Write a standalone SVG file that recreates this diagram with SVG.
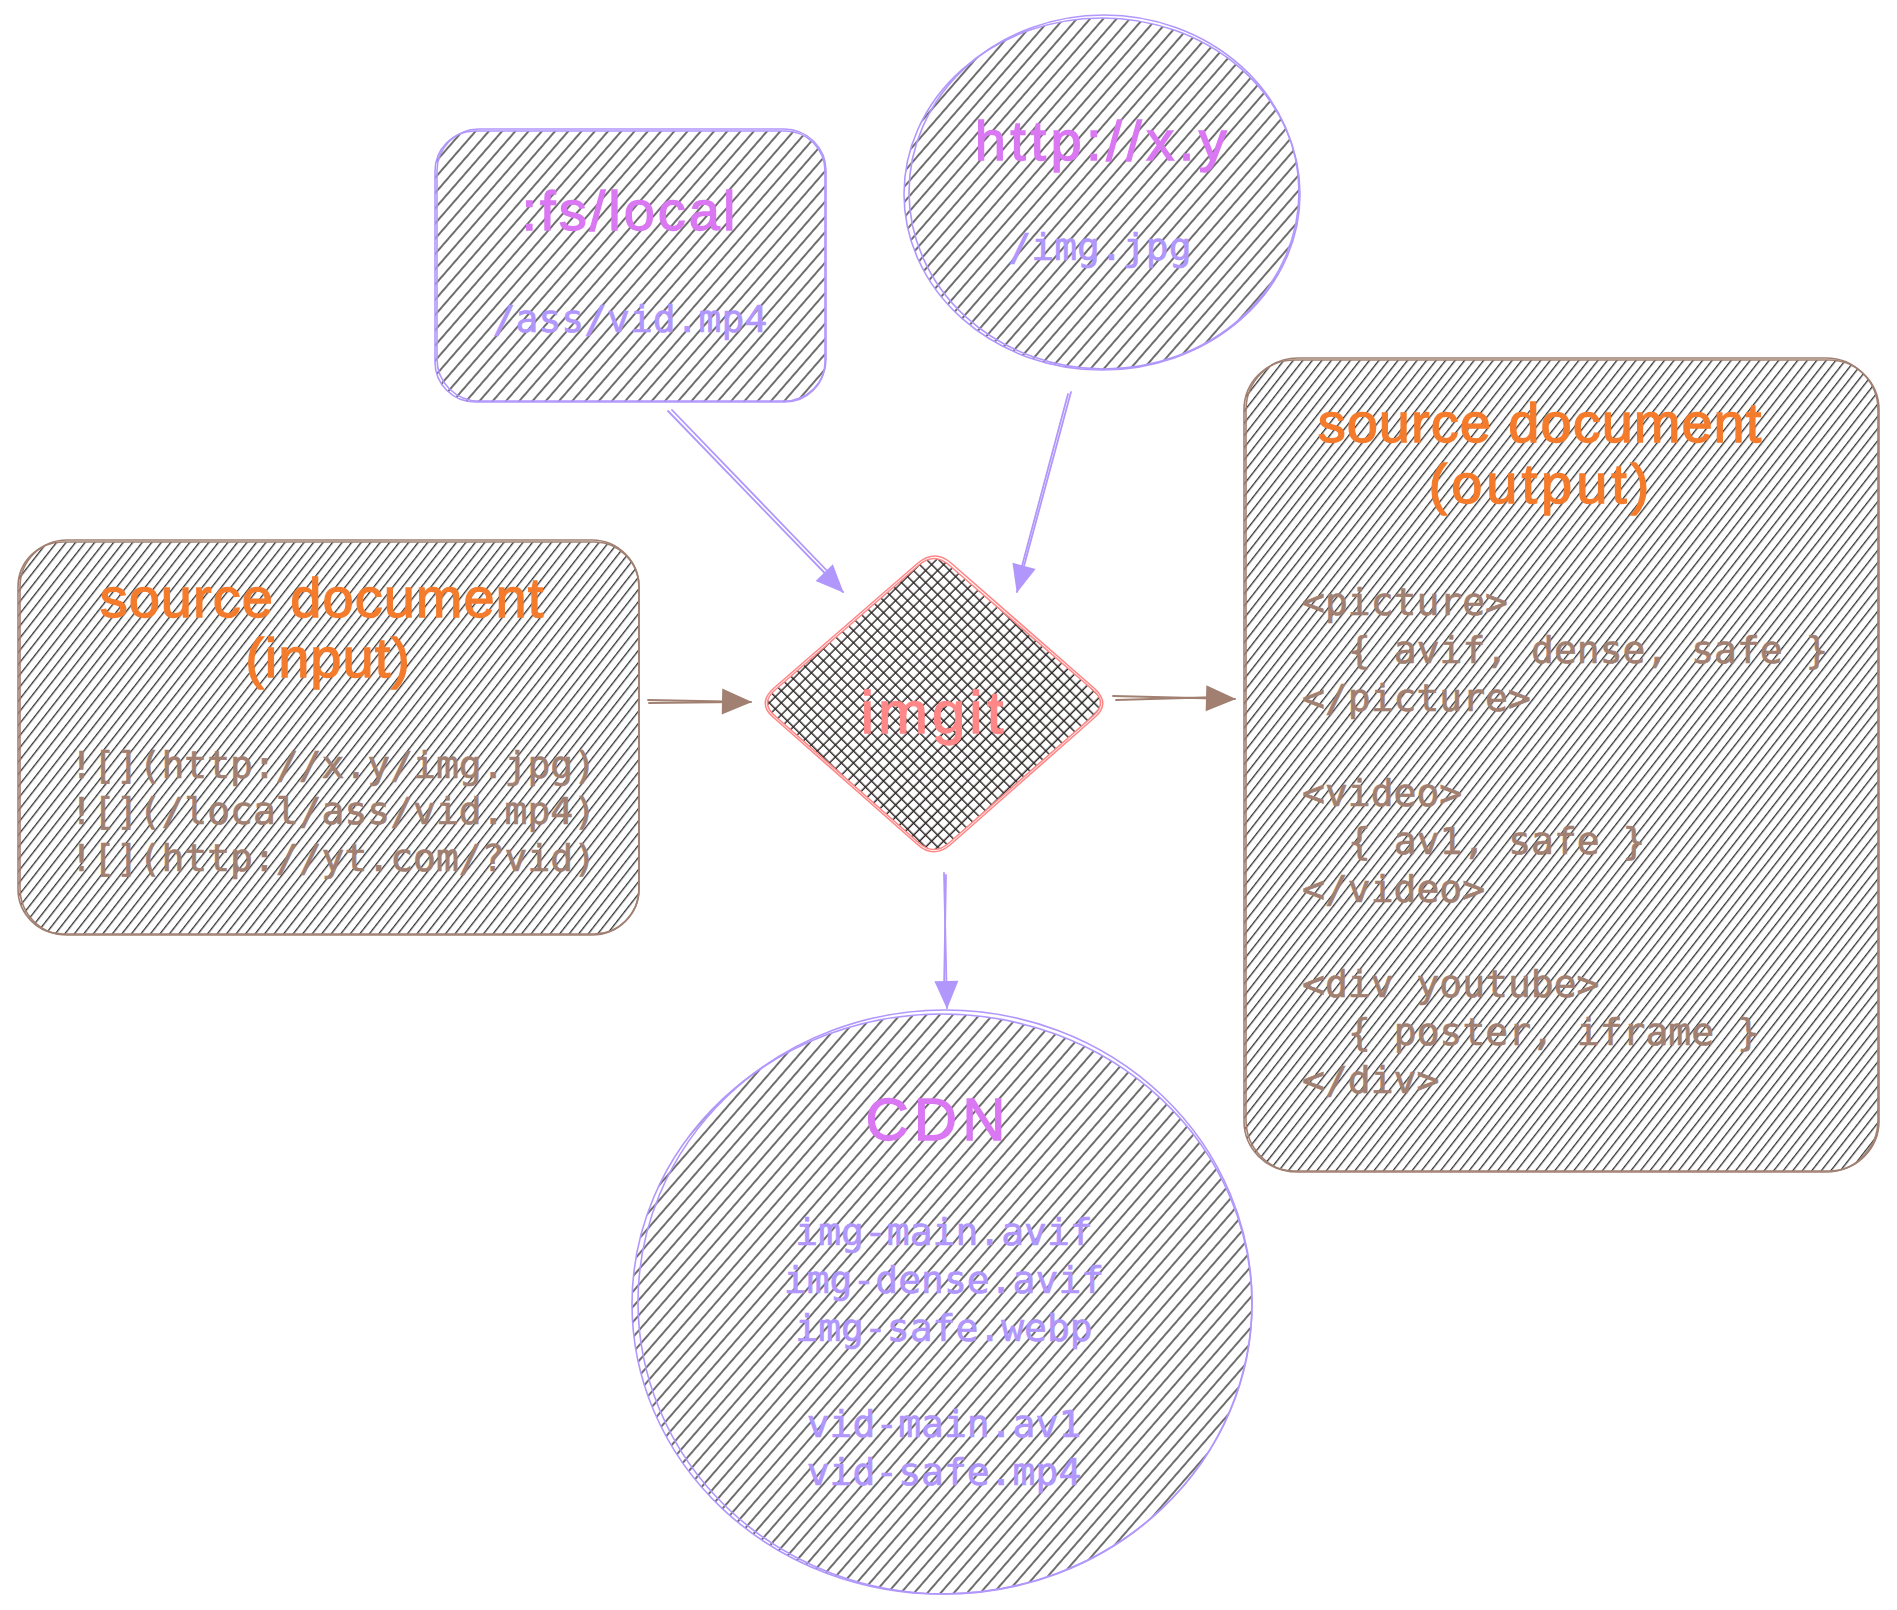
<svg xmlns="http://www.w3.org/2000/svg" width="1897" height="1610" viewBox="0 0 1897 1610">
<style>
.bg{fill:#ffffff}
.title{font-family:"Liberation Sans","Noto Sans",sans-serif;font-size:56px;letter-spacing:1px;text-anchor:middle;stroke-width:1.3px}
.mono{font-family:"DejaVu Sans Mono","Liberation Mono",monospace;font-size:38px;stroke-width:0.7px}
.mid{text-anchor:middle}
.violet{stroke:#b197fc;fill:none;stroke-width:1.6}
.brown{stroke:#a18072;fill:none;stroke-width:1.6}
.salmon{stroke:#ff8787;fill:none;stroke-width:1.6}
.t-grape{fill:#da77f2;stroke:#da77f2}
.t-violet{fill:#b197fc;stroke:#b197fc}
.t-brown{fill:#a18072;stroke:#a18072}
.t-orange{fill:#f47b2c;stroke:#f47b2c}
.t-salmon{fill:#ff8787;stroke:#ff8787}
.c-violet{stroke:#b197fc;fill:none;stroke-width:1.8;stroke-linecap:round}
.c-brown{stroke:#a18072;fill:none;stroke-width:1.8;stroke-linecap:round}
</style>
<defs>
<pattern id="hatch" patternUnits="userSpaceOnUse" width="10" height="10" patternTransform="rotate(-49)">
<line x1="0" y1="5" x2="10" y2="5" stroke="#1e1e1e" stroke-width="1.3"/>
</pattern>
<pattern id="hatchDense" patternUnits="userSpaceOnUse" width="10" height="7.5" patternTransform="rotate(-52)">
<line x1="0" y1="3.5" x2="10" y2="3.5" stroke="#1e1e1e" stroke-width="1.2"/>
</pattern>
<pattern id="crossA" patternUnits="userSpaceOnUse" width="10" height="8.5" patternTransform="rotate(-45)">
<line x1="0" y1="4" x2="10" y2="4" stroke="#2a2424" stroke-width="1.4"/>
</pattern>
<pattern id="crossB" patternUnits="userSpaceOnUse" width="10" height="8.5" patternTransform="rotate(45)">
<line x1="0" y1="4" x2="10" y2="4" stroke="#2a2424" stroke-width="1.4"/>
</pattern>
<marker id="headBrown" viewBox="0 0 32 30" refX="30" refY="15" markerWidth="32" markerHeight="30" markerUnits="userSpaceOnUse" orient="auto">
<path d="M1,2 L31,15 L1,28 Z" fill="#a18072"/>
</marker>
<marker id="headViolet" viewBox="0 0 30 28" refX="28" refY="14" markerWidth="30" markerHeight="28" markerUnits="userSpaceOnUse" orient="auto">
<path d="M1,2 L29,14 L1,26 Z" fill="#b197fc"/>
</marker>
</defs>
<rect class="bg" x="0" y="0" width="1897" height="1610"/>

<g id="connectors">
<g id="edge-input-imgit">
<path class="c-brown" d="M648,700 L751,702" marker-end="url(#headBrown)"/>
<path class="c-brown" d="M649,703 L736,702"/>
</g>
<g id="edge-imgit-output">
<path class="c-brown" d="M1113,696 L1235,699" marker-end="url(#headBrown)"/>
<path class="c-brown" d="M1116,700 L1220,697"/>
</g>
<g id="edge-fslocal-imgit">
<path class="c-violet" d="M668,411 L843,592" marker-end="url(#headViolet)"/>
<path class="c-violet" d="M672,410 L834,578"/>
</g>
<g id="edge-http-imgit">
<path class="c-violet" d="M1071,392 L1017,592" marker-end="url(#headViolet)"/>
<path class="c-violet" d="M1068,394 L1022,566"/>
</g>
<g id="edge-imgit-cdn">
<path class="c-violet" d="M944,873 L947,1008" marker-end="url(#headViolet)"/>
<path class="c-violet" d="M946,875 L944,990"/>
</g>
</g>

<g id="node-fslocal">
<rect x="435" y="131" width="390" height="271" rx="40" fill="url(#hatch)"/>
<rect class="violet" x="435" y="131" width="390" height="271" rx="40"/>
<rect class="violet" x="437" y="129" width="389" height="272" rx="42"/>
<text class="title t-grape" x="630" y="230" style="letter-spacing:3px">:fs/local</text>
<text class="mono mid t-violet" x="630" y="332">/ass/vid.mp4</text>
</g>

<g id="node-http">
<ellipse cx="1102" cy="194" rx="198" ry="176" fill="url(#hatch)"/>
<ellipse class="violet" cx="1102" cy="194" rx="198" ry="176"/>
<ellipse class="violet" cx="1104" cy="192" rx="195" ry="177"/>
<text class="title t-grape" x="1103" y="160" style="letter-spacing:4.5px">http://x.y</text>
<text class="mono mid t-violet" x="1100" y="260">/img.jpg</text>
</g>

<g id="node-input">
<rect x="18" y="542" width="621" height="392" rx="45" fill="url(#hatchDense)"/>
<rect class="brown" x="18" y="542" width="621" height="392" rx="45"/>
<rect class="brown" x="20" y="540" width="619" height="395" rx="47"/>
<text class="title t-orange" x="322" y="617">source document</text>
<text class="title t-orange" x="328" y="677">(input)</text>
<text class="mono mid t-brown" x="333" y="778">![](http://x.y/img.jpg)</text>
<text class="mono mid t-brown" x="333" y="824">![](/local/ass/vid.mp4)</text>
<text class="mono mid t-brown" x="333" y="871">![](http://yt.com/?vid)</text>
</g>

<g id="node-imgit">
<path d="M949,565 L1093,690 Q1108,703 1093,716 L949,843 Q934,856 919,843 L775,716 Q760,703 775,690 L919,565 Q934,552 949,565 Z" fill="url(#crossA)"/>
<path d="M949,565 L1093,690 Q1108,703 1093,716 L949,843 Q934,856 919,843 L775,716 Q760,703 775,690 L919,565 Q934,552 949,565 Z" fill="url(#crossB)"/>
<path class="salmon" d="M949,565 L1093,690 Q1108,703 1093,716 L949,843 Q934,856 919,843 L775,716 Q760,703 775,690 L919,565 Q934,552 949,565 Z"/>
<path class="salmon" d="M951,563 L1095,689 Q1111,704 1094,718 L950,845 Q933,859 917,844 L773,717 Q757,703 774,688 L918,563 Q935,549 951,563 Z"/>
<text class="title t-salmon" x="934" y="733" style="font-size:60px;letter-spacing:4px">imgit</text>
</g>

<g id="node-output">
<rect x="1244" y="360" width="635" height="811" rx="50" fill="url(#hatchDense)"/>
<rect class="brown" x="1244" y="360" width="635" height="811" rx="50"/>
<rect class="brown" x="1246" y="358" width="632" height="814" rx="52"/>
<text class="title t-orange" x="1540" y="442">source document</text>
<text class="title t-orange" x="1541" y="503" style="letter-spacing:4px">(output)</text>
<text class="mono t-brown" x="1302" y="615">&lt;picture&gt;</text>
<text class="mono t-brown" x="1348" y="663">{ avif, dense, safe }</text>
<text class="mono t-brown" x="1302" y="711">&lt;/picture&gt;</text>
<text class="mono t-brown" x="1302" y="806">&lt;video&gt;</text>
<text class="mono t-brown" x="1348" y="854">{ av1, safe }</text>
<text class="mono t-brown" x="1302" y="902">&lt;/video&gt;</text>
<text class="mono t-brown" x="1302" y="997">&lt;div youtube&gt;</text>
<text class="mono t-brown" x="1348" y="1045">{ poster, iframe }</text>
<text class="mono t-brown" x="1302" y="1093">&lt;/div&gt;</text>
</g>

<g id="node-cdn">
<ellipse cx="942" cy="1304" rx="310" ry="290" fill="url(#hatch)"/>
<ellipse class="violet" cx="942" cy="1304" rx="310" ry="290"/>
<ellipse class="violet" cx="945" cy="1302" rx="307" ry="292"/>
<text class="title t-grape" x="938" y="1140" style="font-size:60px;letter-spacing:5px">CDN</text>
<text class="mono mid t-violet" x="944" y="1245">img-main.avif</text>
<text class="mono mid t-violet" x="944" y="1293">img-dense.avif</text>
<text class="mono mid t-violet" x="944" y="1341">img-safe.webp</text>
<text class="mono mid t-violet" x="944" y="1437">vid-main.av1</text>
<text class="mono mid t-violet" x="944" y="1485">vid-safe.mp4</text>
</g>
</svg>
